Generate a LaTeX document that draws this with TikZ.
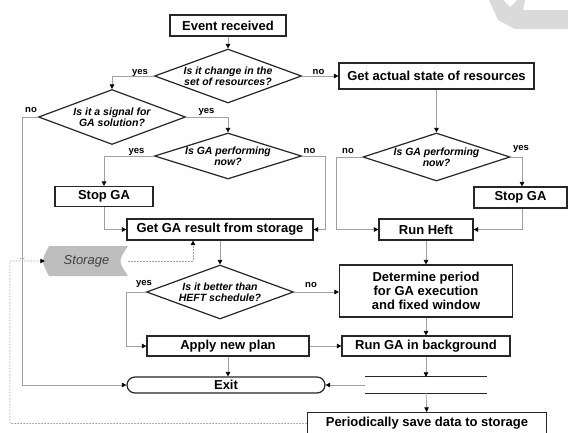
\documentclass[tikz,border=0pt]{standalone}
\usepackage{fontspec}
\setmainfont{Liberation Sans}
\usetikzlibrary{arrows.meta,shapes.geometric,positioning}
\definecolor{linkgray}{RGB}{160,160,160}
\definecolor{storefill}{RGB}{190,190,190}
\definecolor{markgray}{RGB}{218,218,218}

\begin{document}
\begin{tikzpicture}[x=1pt, y=-1pt,
    link/.style={-{Triangle[length=4.5pt,width=4.5pt,color=black]}, line width=0.7pt, linkgray},
    dlink/.style={link, dash pattern=on 1.5pt off 1.5pt},
    stepbox/.style={draw=black!85, line width=1.2pt, fill=white, inner sep=0pt,
                    align=center, font=\fontsize{13}{14}\selectfont\bfseries},
    decide/.style={diamond, draw=black!85, line width=1.2pt, fill=white, inner sep=0pt,
                   aspect=2.8, minimum width=147pt, minimum height=54pt, align=center,
                   font=\fontsize{10.5}{10.5}\selectfont\bfseries\itshape},
    lbl/.style={anchor=base, inner sep=0pt, font=\fontsize{9.5}{10}\selectfont\bfseries}
  ]
  \useasboundingbox (0,0) rectangle (568,432);
  % watermark in the corner
  \fill[markgray] (489,0) -- (503,0) -- (510,7) -- (517,0) -- (525,0) -- (523,10)
    -- (568,10) -- (568,29) -- (515,29) -- (498,20) -- cycle;

  % left branch
  \node[stepbox, minimum width=116pt, minimum height=21pt] (ev) at (228,25.5) {Event received};
  \node[decide] (d1) at (228,76) {Is it change in the\\set of resources?};
  \node[decide, minimum height=55pt] (d2) at (112,117) {Is it a signal for\\GA solution?};
  \node[decide, aspect=3.2, minimum height=46pt] (d3) at (228,156) {Is GA performing\\now?};
  \node[stepbox, minimum width=98pt, minimum height=20pt] (stopL) at (104,196.5) {Stop GA};
  \node[stepbox, minimum width=186pt, minimum height=21pt] (getGA) at (220,229.5) {Get GA result from storage};
  \node[decide] (d4) at (220,292) {Is it better than\\HEFT schedule?};
  \node[stepbox, minimum width=162pt, minimum height=20pt] (apply) at (228,346) {Apply new plan};
  \node[stepbox, rounded corners=8pt, minimum width=198pt, minimum height=16pt] (exit) at (226,385) {Exit};

  % right branch
  \node[stepbox, minimum width=195pt, minimum height=26pt] (act) at (436.5,76) {Get actual state of resources};
  \node[decide, aspect=3.2, minimum height=48pt] (d5) at (436.5,157) {Is GA performing\\now?};
  \node[stepbox, minimum width=93pt, minimum height=21pt] (stopR) at (520.5,197.5) {Stop GA};
  \node[stepbox, minimum width=94pt, minimum height=21pt] (heft) at (426,229.5) {Run Heft};
  \node[stepbox, minimum width=173pt, minimum height=52pt] (det) at (426,291) {Determine period\\for GA execution\\and fixed window};
  \node[stepbox, minimum width=168pt, minimum height=20pt] (runGA) at (426,346) {Run GA in background};
  \node[minimum width=121pt, minimum height=16pt, inner sep=0pt] (fork) at (426,385) {};
  \draw[line width=1pt, black!85] (fork.north west) -- (fork.north east)
    (fork.south west) -- (fork.south east);
  \node[stepbox, minimum width=239pt, minimum height=22pt] (save) at (427,423.5) {Periodically save data to storage};

  % storage
  \fill[storefill] (49,246) -- (128,246) .. controls (118,261) .. (128,276)
    -- (49,276) .. controls (41,261) .. (49,246) -- cycle;
  \node[minimum width=83pt, minimum height=30pt, inner sep=0pt,
        font=\fontsize{13}{14}\selectfont\itshape, text=black!75] (stor) at (86.5,261) {Storage};

  % branch labels
  \node[lbl] (yes1) at (140,74) {yes};
  \node[lbl] (no1) at (318.5,74) {no};
  \node[lbl] (no2) at (31,112) {no};
  \node[lbl] (yes2) at (206.5,113) {yes};
  \node[lbl] (yes3) at (136.5,153) {yes};
  \node[lbl] (no3) at (309.5,153) {no};
  \node[lbl] (no5) at (348,153) {no};
  \node[lbl] (yes5) at (521,150) {yes};
  \node[lbl] (yes4) at (144,285) {yes};
  \node[lbl] (no4) at (311,287) {no};

  % connectors
  \draw[link] (ev) -- (d1);
  \draw[link] (d1.west) -| (d2.north);
  \draw[link] (d1) -- (act);
  \draw[link] (d2.west) -- ++(-16,0) |- (exit.west);
  \draw[link] (d2.east) -| (d3.north);
  \draw[link] (d3.west) -| (stopL.north);
  \draw[link] (d3.east) -- ++(23,0) |- (getGA.east);
  \draw[link] (stopL.south) |- (getGA.west);
  \draw[link] (getGA) -- (d4);
  \draw[link] (d4.west) -- ++(-20,0) |- (apply.west);
  \draw[link] (d4.east) -- (d4.east -| det.west);
  \draw[link] (apply) -- (runGA);
  \draw[link] (apply.south) -- (apply.south |- exit.north);
  \draw[link] (act) -- (d5);
  \draw[link] (d5.west) -- ++(-26,0) |- (heft.west);
  \draw[link] (d5.east) -| ([xshift=1.5pt]stopR.north);
  \draw[link] ([xshift=1.5pt]stopR.south) |- (heft.east);
  \draw[link] (heft) -- (det);
  \draw[link] (det) -- (runGA);
  \draw[link] (runGA) -- (fork);
  \draw[link] (fork) -- (exit);
  \draw[link] (fork) -- (save);

  % storage links
  \coordinate (dl) at (10,261);
  \draw[dlink] (save.west) -| (dl) -- (19,261) arc[start angle=180, end angle=360, radius=3]
    -- (stor.west);
  \draw[dlink] (stor.east) -| ([xshift=-27pt]getGA.south);
\end{tikzpicture}
\end{document}
